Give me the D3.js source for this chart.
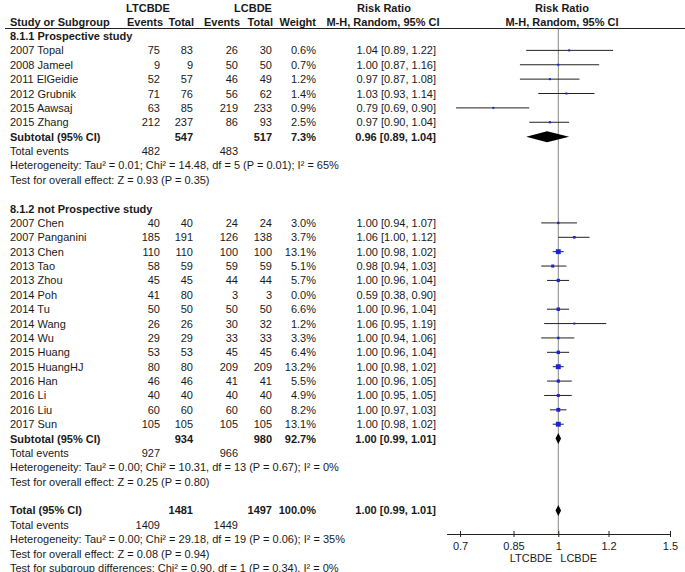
<!DOCTYPE html>
<html>
<head>
<meta charset="utf-8">
<script src="https://cdn.jsdelivr.net/npm/d3@7"></script>
<style>
  body { margin: 0; background: #fff; }
  svg text { font-family: "Liberation Sans", Arial, sans-serif; fill: #1a1a1a; }
</style>
</head>
<body>
<div id="forest"></div>
<script>
// study rows: row index, name, LTCBDE events/total, LCBDE events/total, weight %, RR and CI
const rowIndex   = [1, 2, 3, 4, 5, 6, 13, 14, 15, 16, 17, 18, 19, 20, 21, 22, 23, 24, 25, 26, 27];
const studyNames = ["2007 Topal", "2008 Jameel", "2011 ElGeidie", "2012 Grubnik", "2015 Aawsaj", "2015 Zhang",
  "2007 Chen", "2007 Panganini", "2013 Chen", "2013 Tao", "2013 Zhou", "2014 Poh", "2014 Tu", "2014 Wang",
  "2014 Wu", "2015 Huang", "2015 HuangHJ", "2016 Han", "2016 Li", "2016 Liu", "2017 Sun"];
const ltcEvents = [75, 9, 52, 71, 63, 212, 40, 185, 110, 58, 45, 41, 50, 26, 29, 53, 80, 46, 40, 60, 105];
const ltcTotals = [83, 9, 57, 76, 85, 237, 40, 191, 110, 59, 45, 80, 50, 26, 29, 53, 80, 46, 40, 60, 105];
const lcEvents  = [26, 50, 46, 56, 219, 86, 24, 126, 100, 59, 44, 3, 50, 30, 33, 45, 209, 41, 40, 60, 105];
const lcTotals  = [30, 50, 49, 62, 233, 93, 24, 138, 100, 59, 44, 3, 50, 32, 33, 45, 209, 41, 40, 60, 105];
const weights   = [0.6, 0.7, 1.2, 1.4, 0.9, 2.5, 3.0, 3.7, 13.1, 5.1, 5.7, 0.0, 6.6, 1.2, 3.3, 6.4, 13.2, 5.5, 4.9, 8.2, 13.1];
const riskRatio = [1.04, 1.00, 0.97, 1.03, 0.79, 0.97, 1.00, 1.06, 1.00, 0.98, 1.00, 0.59, 1.00, 1.06, 1.00, 1.00, 1.00, 1.00, 1.00, 1.00, 1.00];
const ciLow     = [0.89, 0.87, 0.87, 0.93, 0.69, 0.90, 0.94, 1.00, 0.98, 0.94, 0.96, 0.38, 0.96, 0.95, 0.94, 0.96, 0.98, 0.96, 0.95, 0.97, 0.98];
const ciHigh    = [1.22, 1.16, 1.08, 1.14, 0.90, 1.04, 1.07, 1.12, 1.02, 1.03, 1.04, 0.90, 1.04, 1.19, 1.06, 1.04, 1.02, 1.05, 1.05, 1.03, 1.02];

// summary rows (subtotal 1, subtotal 2, total)
const summaryRows   = [7, 28, 33];
const summaryLabels = ["Subtotal (95% CI)", "Subtotal (95% CI)", "Total (95% CI)"];
const summaryLtcTot = [547, 934, 1481];
const summaryLcTot  = [517, 980, 1497];
const summaryWeight = ["7.3%", "92.7%", "100.0%"];
const summaryRR     = [0.96, 1.00, 1.00];
const summaryLow    = [0.89, 0.99, 0.99];
const summaryHigh   = [1.04, 1.01, 1.01];

// total events rows
const eventRows = [8, 29, 34];
const eventLtc  = [482, 927, 1409];
const eventLc   = [483, 966, 1449];

// free text rows
const noteRows = [0, 9, 10, 12, 30, 31, 35, 36, 37];
const noteTexts = [
  "8.1.1 Prospective study",
  "Heterogeneity: Tau² = 0.01; Chi² = 14.48, df = 5 (P = 0.01); I² = 65%",
  "Test for overall effect: Z = 0.93 (P = 0.35)",
  "8.1.2 not Prospective study",
  "Heterogeneity: Tau² = 0.00; Chi² = 10.31, df = 13 (P = 0.67); I² = 0%",
  "Test for overall effect: Z = 0.25 (P = 0.80)",
  "Heterogeneity: Tau² = 0.00; Chi² = 29.18, df = 19 (P = 0.06); I² = 35%",
  "Test for overall effect: Z = 0.08 (P = 0.94)",
  "Test for subgroup differences: Chi² = 0.90, df = 1 (P = 0.34), I² = 0%"
];
const noteBold = [true, false, false, true, false, false, false, false, false];

const axisTicks = [0.7, 0.85, 1, 1.2, 1.5];

const width = 685, height = 572;
const fs = 11;
const colX = { name: 10, ltcEv: 160, ltcTot: 193, lcEv: 238, lcTot: 272, weight: 316, rr: 436 };

const svg = d3.select("#forest").append("svg")
  .attr("width", width)
  .attr("height", height)
  .style("font-size", fs + "px");

const yRow = d3.scaleLinear().domain([0, 37]).range([36, 568]);
const x = d3.scaleLog().domain([1 / 1.5, 1.5]).range([446.6, 670]);
const axisY = 534;
const fmt2 = d3.format(".2f");

function txt(xp, row, s, anchor, bold) {
  svg.append("text")
    .attr("x", xp)
    .attr("y", yRow(row) + 4)
    .attr("text-anchor", anchor || "start")
    .style("font-weight", bold ? "bold" : "normal")
    .text(s);
}

// header
const head = svg.append("g").style("font-weight", "bold");
[["LTCBDE", 148, 12], ["LCBDE", 253, 12], ["Risk Ratio", 384, 12], ["Risk Ratio", 562, 12]].forEach(h => {
  head.append("text").attr("x", h[1]).attr("y", h[2]).attr("text-anchor", "middle").text(h[0]);
});
head.append("text").attr("x", 10).attr("y", 26).text("Study or Subgroup");
[["Events", colX.ltcEv + 3], ["Total", colX.ltcTot + 1], ["Events", colX.lcEv + 2], ["Total", colX.lcTot + 1], ["Weight", colX.weight]]
  .forEach(h => head.append("text").attr("x", h[1]).attr("y", 26).attr("text-anchor", "end").text(h[0]));
head.append("text").attr("x", 383).attr("y", 26).attr("text-anchor", "middle").text("M-H, Random, 95% CI");
head.append("text").attr("x", 562).attr("y", 26).attr("text-anchor", "middle").text("M-H, Random, 95% CI");
svg.append("line").attr("x1", 5).attr("x2", 685).attr("y1", 28.5).attr("y2", 28.5)
  .attr("stroke", "#222").attr("stroke-width", 1);

// vertical line of no effect
svg.append("line")
  .attr("x1", x(1)).attr("x2", x(1))
  .attr("y1", 29).attr("y2", axisY)
  .attr("stroke", "#888").attr("stroke-width", 1);

// notes
noteRows.forEach((r, i) => txt(colX.name, r, noteTexts[i], "start", noteBold[i]));

// studies
studyNames.forEach((n, i) => {
  const r = rowIndex[i];
  txt(colX.name, r, n);
  txt(colX.ltcEv, r, ltcEvents[i], "end");
  txt(colX.ltcTot, r, ltcTotals[i], "end");
  txt(colX.lcEv, r, lcEvents[i], "end");
  txt(colX.lcTot, r, lcTotals[i], "end");
  txt(colX.weight, r, weights[i].toFixed(1) + "%", "end");
  txt(colX.rr, r, `${fmt2(riskRatio[i])} [${fmt2(ciLow[i])}, ${fmt2(ciHigh[i])}]`, "end");
});

// CI lines and squares (studies with 0% weight are not drawn)
const marks = svg.append("g");
studyNames.forEach((n, i) => {
  if (weights[i] <= 0) return;
  const cy = yRow(rowIndex[i]);
  const [d0, d1] = x.domain();
  marks.append("line")
    .attr("x1", x(Math.max(ciLow[i], d0))).attr("x2", x(Math.min(ciHigh[i], d1)))
    .attr("y1", cy).attr("y2", cy)
    .attr("stroke", "#222").attr("stroke-width", 1);
  const s = Math.max(2, 1.35 * Math.sqrt(weights[i]));
  marks.append("rect")
    .attr("x", x(riskRatio[i]) - s / 2).attr("y", cy - s / 2)
    .attr("width", s).attr("height", s)
    .attr("fill", "#1c22d6");
});

// summaries
summaryRows.forEach((r, i) => {
  txt(colX.name, r, summaryLabels[i], "start", true);
  txt(colX.ltcTot, r, summaryLtcTot[i], "end", true);
  txt(colX.lcTot, r, summaryLcTot[i], "end", true);
  txt(colX.weight, r, summaryWeight[i], "end", true);
  txt(colX.rr, r, `${fmt2(summaryRR[i])} [${fmt2(summaryLow[i])}, ${fmt2(summaryHigh[i])}]`, "end", true);
  const cy = yRow(r);
  const pts = [[x(summaryLow[i]), cy], [x(summaryRR[i]), cy - 5.5], [x(summaryHigh[i]), cy], [x(summaryRR[i]), cy + 5.5]];
  marks.append("path").attr("d", d3.line()(pts) + "Z").attr("fill", "#000");
});

// total events
eventRows.forEach((r, i) => {
  txt(colX.name, r, "Total events");
  txt(colX.ltcEv, r, eventLtc[i], "end");
  txt(colX.lcEv, r, eventLc[i], "end");
});

// axis
const axis = svg.append("g")
  .attr("transform", `translate(0,${axisY})`)
  .call(d3.axisBottom(x).tickValues(axisTicks).tickFormat(d => String(d)).tickSizeOuter(0).tickSizeInner(3).tickPadding(5));
axis.select(".domain").attr("stroke", "#222");
axis.selectAll(".tick line").attr("y1", -3).attr("y2", 3).attr("stroke", "#222");
axis.selectAll(".tick text").style("font-size", fs + "px").style("font-family", "Liberation Sans, Arial, sans-serif").attr("fill", "#1a1a1a");

svg.append("text").attr("x", x(1) - 6).attr("y", 562).attr("text-anchor", "end").text("LTCBDE");
svg.append("text").attr("x", x(1) + 2).attr("y", 562).attr("text-anchor", "start").text("LCBDE");
</script>
</body>
</html>
